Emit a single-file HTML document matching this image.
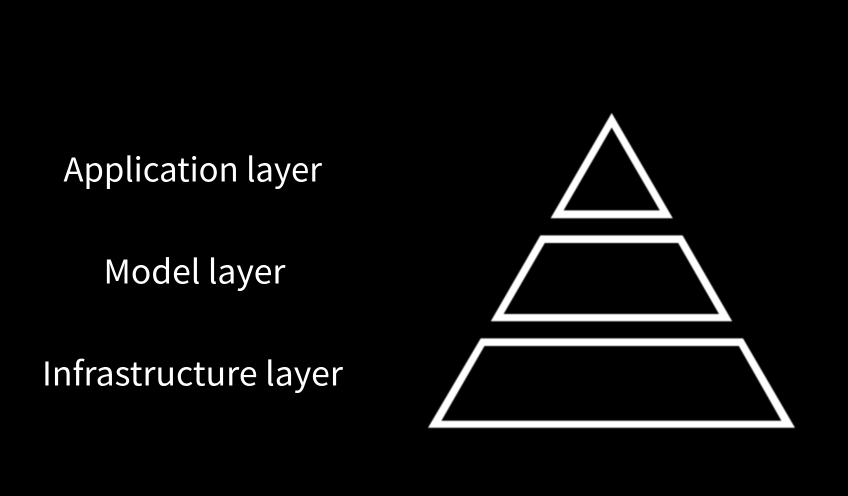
<!DOCTYPE html>
<html lang="en">
<head>
<meta charset="utf-8">
<title>Pyramid of layers</title>
<style>
  html, body { margin: 0; padding: 0; background: #000; }
  svg { display: block; }
  text { font-family: "Noto Sans CJK JP", "Liberation Sans", sans-serif; font-size: 33px; fill: #fff; }
  .tier { fill: #fff; fill-rule: evenodd; filter: blur(0.4px); }
</style>
</head>
<body>
<svg width="848" height="496" viewBox="0 0 848 496" xmlns="http://www.w3.org/2000/svg">
  <rect x="0" y="0" width="848" height="496" fill="#000"/>
  <text x="63.5" y="181.3" textLength="258.5" lengthAdjust="spacingAndGlyphs">Application layer</text>
  <text x="103.5" y="283.3" textLength="182" lengthAdjust="spacingAndGlyphs">Model layer</text>
  <text x="42" y="385.6" textLength="301" lengthAdjust="spacingAndGlyphs">Infrastructure layer</text>
  <path class="tier" d="M611.7 113 L672.8 218.2 L550.6 218.2 Z M611.7 127.5 L563.6 210.4 L659.8 210.4 Z"/>
  <path class="tier" d="M540.4 235.4 L682.6 235.4 L732.2 321.2 L490.8 321.2 Z M544.8 243 L503.6 314 L719 314 L678.2 243 Z"/>
  <path class="tier" d="M480.7 338.4 L743 338.4 L795 427.8 L428 427.8 Z M484.5 346 L441.4 420.7 L781.4 420.7 L738.8 346 Z"/>
</svg>
</body>
</html>
